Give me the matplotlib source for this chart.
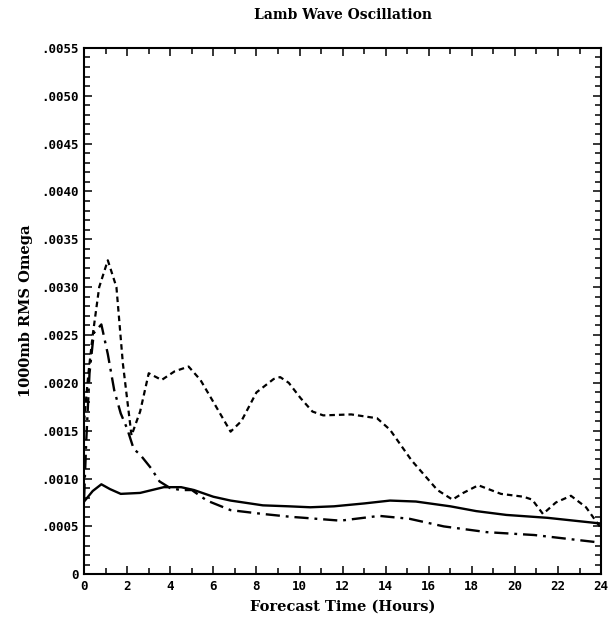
import matplotlib
matplotlib.use('Agg')
import matplotlib.pyplot as plt
from matplotlib.ticker import MultipleLocator

# values
solid_x = [0, 0.4, 0.8, 1.2, 1.7, 2.6, 3.7, 4.5, 5.1, 6.0, 6.8, 8.3, 9.5, 10.5,
           11.6, 13.0, 14.2, 15.4, 17.0, 18.2, 19.6, 21.5, 24]
solid_y = [.00076, .00087, .00094, .00089, .00084, .00085, .00091, .00091, .00088,
           .00081, .00077, .00072, .00071, .00070, .00071, .00074, .00077, .00076,
           .00071, .00066, .00062, .00059, .00053]

dashdot_x = [0, 0.1, 0.25, 0.45, 0.8, 1.1, 1.4, 1.7, 2.0, 2.3, 2.6, 3.1, 3.5, 4.0,
             4.5, 5.0, 5.7, 6.8, 8.3, 9.6, 10.2, 11.9, 13.7, 15.1, 16.7, 18.7, 20.9, 24]
dashdot_y = [.00080, .00140, .00210, .00252, .00261, .00230, .00192, .00168, .00152,
             .00131, .00125, .00111, .00097, .00090, .00088, .00088, .00077, .00067,
             .00063, .00060, .00059, .00056, .00061, .00058, .00050, .00044, .00041, .00033]

dashed_x = [0, 0.2, 0.4, 0.7, 1.1, 1.5, 1.8, 2.2, 2.6, 3.0, 3.6, 4.2, 4.85, 5.4, 6.0,
            6.8, 7.3, 8.0, 8.8, 9.1, 9.5, 10.05, 10.6, 11.1, 12.4, 13.6, 14.2, 15.2,
            16.4, 17.1, 17.6, 18.3, 19.35, 20.4, 20.8, 21.3, 21.9, 22.6, 23.3, 24]
dashed_y = [.00160, .00210, .00250, .00300, .00328, .00300, .00220, .00145, .00170,
            .00210, .00203, .00212, .00217, .00203, .00180, .00149, .00160, .00190,
            .00204, .00206, .00200, .00184, .00170, .00166, .00167, .00163, .00151,
            .00119, .00088, .00078, .00085, .00093, .00084, .00081, .00078, .00063,
            .00075, .00082, .00070, .00048]

y_ticks = [0, .0005, .0010, .0015, .0020, .0025, .0030, .0035, .0040, .0045, .0050, .0055]
y_labels = ['0', '.0005', '.0010', '.0015', '.0020', '.0025', '.0030', '.0035',
            '.0040', '.0045', '.0050', '.0055']
x_ticks = list(range(0, 25, 2))

fig = plt.figure(figsize=(6.14, 6.29), dpi=100)
ax = fig.add_axes([0.137, 0.087, 0.842, 0.837])

ax.plot(solid_x, solid_y, color='black', lw=1.7, solid_joinstyle='round')
ax.plot(dashdot_x, dashdot_y, color='black', lw=1.7, dashes=(6, 2.5, 1.2, 2.5))
ax.plot(dashed_x, dashed_y, color='black', lw=1.6, dashes=(2.5, 1.8))

ax.set_xlim(0, 24)
ax.set_ylim(0, .0055)
ax.set_xticks(x_ticks)
ax.set_xticklabels([str(v) for v in x_ticks], family='DejaVu Sans Mono',
                   fontsize=9, fontweight='bold')
ax.set_yticks(y_ticks)
ax.set_yticklabels(y_labels, family='DejaVu Sans Mono', fontsize=9, fontweight='bold')
ax.xaxis.set_minor_locator(MultipleLocator(1))
ax.yaxis.set_minor_locator(MultipleLocator(.0001))
ax.tick_params(which='both', direction='in', top=True, right=True, width=1.1)
ax.tick_params(which='major', length=6, pad=4)
ax.tick_params(which='minor', length=4)
for s in ax.spines.values():
    s.set_linewidth(1.5)

ax.set_title('Lamb Wave Oscillation', family='DejaVu Serif', fontweight='bold',
             fontsize=10, pad=21)
ax.set_xlabel('Forecast Time (Hours)', family='DejaVu Serif', fontweight='bold',
              fontsize=10.5, labelpad=5)
ax.set_ylabel('1000mb RMS Omega', family='DejaVu Serif', fontweight='bold',
              fontsize=10.5, labelpad=6)

fig.savefig('out.png', dpi=100)
